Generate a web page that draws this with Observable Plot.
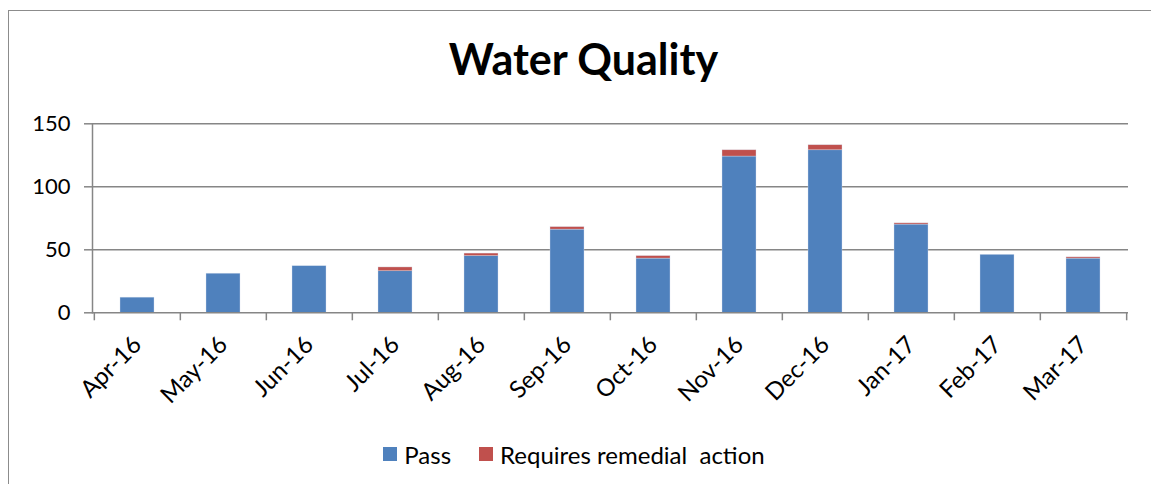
<!DOCTYPE html>
<html>
<head>
<meta charset="utf-8">
<script src="https://cdn.jsdelivr.net/npm/d3@7"></script>
<script src="https://cdn.jsdelivr.net/npm/@observablehq/plot@0.6"></script>
<style>
  html, body { margin: 0; padding: 0; background: #fff; overflow: hidden; }
  #wrap { position: relative; width: 1151px; height: 484px; overflow: hidden; font-family: Lato, "Noto Sans", sans-serif; }
  #frame { position: absolute; left: 8px; top: 10px; width: 1200px; height: 520px; border: 1.5px solid #8c8c8c; box-sizing: border-box; }
  #title { position: absolute; left: 0; width: 1167px; top: 33px; text-align: center; font-weight: bold; font-size: 43px; color: #000; }
  #chart { position: absolute; left: 0; top: 100px; }
  #legend { position: absolute; left: 0; width: 1148px; top: 437px; text-align: center; font-size: 24px; color: #000; }
  .item { display: inline-flex; align-items: center; margin: 0 14px; }
  .sw { display: inline-block; width: 14px; height: 14px; margin-right: 7px; }
</style>
</head>
<body>
<div id="wrap">
  <div id="frame"></div>
  <div id="title">Water Quality</div>
  <div id="chart"></div>
  <div id="legend"></div>
</div>
<script>
const months = ["Apr-16","May-16","Jun-16","Jul-16","Aug-16","Sep-16","Oct-16","Nov-16","Dec-16","Jan-17","Feb-17","Mar-17"];
const pass = [12, 31, 37, 33, 45, 66, 43, 124, 129, 70, 46, 43];
const remedial = [0, 0, 0, 3, 2, 2, 2, 5, 4, 1, 0, 1];
const seriesNames = ["Pass", "Requires remedial  action"];
const seriesColors = ["#4F81BD", "#C0504D"];
const yTicks = [0, 50, 100, 150];

const data = [];
months.forEach((m, i) => {
  data.push({month: m, series: seriesNames[0], value: pass[i]});
  data.push({month: m, series: seriesNames[1], value: remedial[i]});
});

const W = 1151, H = 320, mL = 92, mR = 23, mT = 23.3, mB = 107.7;
const step = (W - mL - mR) / months.length;
const gray = "#868686";

const chart = Plot.plot({
  width: W, height: H,
  marginLeft: mL, marginRight: mR, marginTop: mT, marginBottom: mB,
  style: {fontFamily: "Lato, 'Noto Sans', sans-serif", background: "transparent", color: "#000"},
  x: {domain: months, paddingInner: 0.6, paddingOuter: 0.3, label: null},
  y: {domain: [0, 150], label: null},
  color: {domain: seriesNames, range: seriesColors},
  marks: [
    Plot.gridY(yTicks.slice(1), {stroke: gray, strokeOpacity: 1, strokeWidth: 1.5}),
    Plot.barY(data, {x: "month", y: "value", fill: "series", stroke: "#d8e2f0", strokeWidth: 0.6, strokeOpacity: 0.6}),
    Plot.frame({anchor: "left", stroke: gray, strokeWidth: 1.5}),
    Plot.ruleY([0], {stroke: gray, strokeWidth: 1.5}),
    Plot.axisY({ticks: yTicks, tickSize: 8, tickPadding: 14, fontSize: 22, stroke: gray, strokeWidth: 1.5, label: null}),
    Plot.axisX({tickSize: 0, tickRotate: -45, tickPadding: 28, fontSize: 24, label: null}),
    Plot.axisX({text: null, tickSize: 8, dx: -step / 2, stroke: gray, strokeWidth: 1.5, label: null}),
    Plot.axisX({ticks: [months[months.length - 1]], text: null, tickSize: 8, dx: step / 2, stroke: gray, strokeWidth: 1.5, label: null})
  ]
});
document.getElementById("chart").appendChild(chart);

const legend = document.getElementById("legend");
seriesNames.forEach((s, i) => {
  const it = document.createElement("span");
  it.className = "item";
  const sw = document.createElement("span");
  sw.className = "sw";
  sw.style.background = seriesColors[i];
  it.appendChild(sw);
  const t = document.createElement("span");
  t.textContent = s;
  t.style.whiteSpace = "pre";
  it.appendChild(t);
  legend.appendChild(it);
});
</script>
</body>
</html>
